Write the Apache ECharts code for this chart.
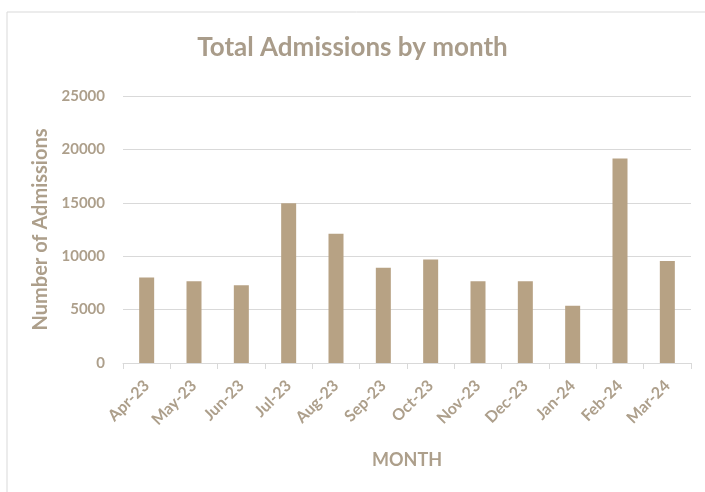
<!DOCTYPE html>
<html>
<head>
<meta charset="utf-8">
<script src="https://cdn.jsdelivr.net/npm/echarts@6/dist/echarts.min.js"></script>
<style>
html,body{margin:0;padding:0;background:#fff;}
#c{width:705px;height:492px;}
</style>
</head>
<body>
<div id="c"></div>
<script>
const categories = ['Apr-23','May-23','Jun-23','Jul-23','Aug-23','Sep-23','Oct-23','Nov-23','Dec-23','Jan-24','Feb-24','Mar-24'];
const admissions = [8000, 7650, 7270, 14950, 12100, 8930, 9690, 7650, 7650, 5360, 19150, 9560];
const yTicks = [0, 5000, 10000, 15000, 20000, 25000];

const textColor = '#ad9f8b';
const chart = echarts.init(document.getElementById('c'));
chart.setOption({
  animation: false,
  backgroundColor: '#fff',
  graphic: [{
    type: 'rect',
    shape: {x: 7, y: 12, width: 720, height: 500},
    style: {fill: 'none', stroke: '#d9d9d9', lineWidth: 1}
  }],
  title: {
    text: 'Total Admissions by month',
    left: 'center',
    top: 30,
    textStyle: {fontFamily: 'Lato', fontSize: 26, fontWeight: 'bold', color: '#a99c8a'}
  },
  grid: {left: 123, right: 14, top: 96, bottom: 129, containLabel: false},
  xAxis: {
    type: 'category',
    data: categories,
    name: 'MONTH',
    nameLocation: 'middle',
    nameGap: 88,
    nameTextStyle: {fontFamily: 'Lato', fontSize: 18, fontWeight: 'bold', color: textColor},
    axisLine: {lineStyle: {color: '#d9d9d9'}},
    axisTick: {show: true, length: 6, lineStyle: {color: '#d9d9d9'}},
    axisLabel: {rotate: 45, margin: 20, fontFamily: 'Lato', fontSize: 16, fontWeight: 'bold', color: textColor}
  },
  yAxis: {
    type: 'value',
    min: yTicks[0],
    max: yTicks[yTicks.length - 1],
    interval: 5000,
    name: 'Number of Admissions',
    nameLocation: 'middle',
    nameGap: 70,
    nameTextStyle: {fontFamily: 'Lato', fontSize: 20, fontWeight: 'bold', color: textColor},
    axisLine: {show: false},
    axisTick: {show: false},
    axisLabel: {margin: 18, fontFamily: 'Lato', fontSize: 15, fontWeight: 'bold', color: textColor, formatter: v => String(v)},
    splitLine: {lineStyle: {color: '#d9d9d9'}}
  },
  series: [{
    type: 'bar',
    data: admissions,
    barWidth: 15,
    itemStyle: {color: '#b7a284'}
  }]
});
</script>
</body>
</html>
